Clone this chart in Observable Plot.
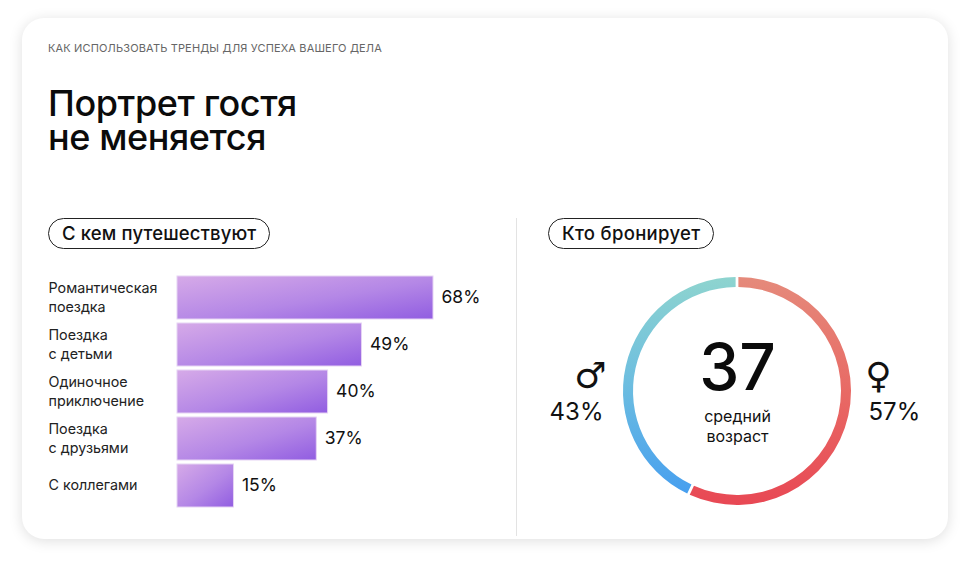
<!DOCTYPE html>
<html lang="ru">
<head>
<meta charset="utf-8">
<script src="https://cdn.jsdelivr.net/npm/d3@7"></script>
<script src="https://cdn.jsdelivr.net/npm/@observablehq/plot@0.6"></script>
<style>
  html, body { margin: 0; padding: 0; background: #ffffff; }
  body { width: 971px; height: 564px; position: relative; overflow: hidden; font-family: "Inter", "Roboto", sans-serif; color: #111; }
  #card { position: absolute; left: 22px; top: 18px; width: 926px; height: 521px; background: #fff; border-radius: 22px; box-shadow: 0 2px 14px rgba(0,0,0,0.13); }
  .abs { position: absolute; }
  #kicker { left: 48px; top: 41px; font-size: 11px; letter-spacing: 0.15px; color: #666; }
  .title { left: 48px; font-size: 36px; font-weight: 500; line-height: 34px; height: 34px; letter-spacing: -0.4px; color: #0b0b0b; white-space: nowrap; }
  #title1 { top: 86px; }
  #title2 { top: 120px; }
  .pill { top: 218px; height: 29px; border: 1.3px solid #222; border-radius: 16px; font-size: 18.5px; font-weight: 500; line-height: 29px; letter-spacing: 0.15px; padding: 0 13px; box-sizing: content-box; color: #111; }
  #pill1 { left: 48px; }
  #pill2 { left: 548px; letter-spacing: 0.3px; }
  #divider { left: 516px; top: 218px; width: 1px; height: 318px; background: #e3e3e3; }
  #bars { left: 30px; top: 265px; }
  #donut { left: 530px; top: 260px; }
</style>
</head>
<body>
<div id="card"></div>
<div id="kicker" class="abs">КАК ИСПОЛЬЗОВАТЬ ТРЕНДЫ ДЛЯ УСПЕХА ВАШЕГО ДЕЛА</div>
<div id="title1" class="abs title">Портрет гостя</div>
<div id="title2" class="abs title">не меняется</div>
<div id="pill1" class="abs pill">С кем путешествуют</div>
<div id="pill2" class="abs pill">Кто бронирует</div>
<div id="divider" class="abs"></div>
<div id="bars" class="abs"></div>
<div id="donut" class="abs"></div>
<script>
// ---- data ----
const categories = ["Романтическая\nпоездка", "Поездка\nс детьми", "Одиночное\nприключение", "Поездка\nс друзьями", "С коллегами"];
const shares = [68, 49, 40, 37, 15];

const genderKeys = ["female", "male"];
const genderSymbols = ["♀", "♂"];
const genderShares = [57, 43];
const averageAge = 37;
const averageAgeLabel = "средний\nвозраст";

// ---- helpers ----
function gradientDefs(specs) {
  return () => {
    const defs = d3.create("svg:defs");
    for (const s of specs) {
      const g = defs.append("linearGradient").attr("id", s.id)
        .attr("x1", s.x1).attr("y1", s.y1).attr("x2", s.x2).attr("y2", s.y2);
      for (const [o, c] of s.stops) g.append("stop").attr("offset", o).attr("stop-color", c);
    }
    return defs.node();
  };
}

// ---- bar chart ----
const travel = categories.map((c, i) => ({category: c, share: shares[i]}));

const bars = Plot.plot({
  width: 470,
  height: 250,
  margin: 0,
  style: {fontFamily: "Inter, Roboto, sans-serif", color: "#1a1a1a", background: "transparent"},
  x: {domain: [0, 68], range: [147, 403], axis: null},
  y: {domain: categories, range: [7, 246], padding: 0.085},
  marks: [
    gradientDefs([{id: "barGrad", x1: 0, y1: 0, x2: 1, y2: 1,
      stops: [[0, "#d6aae8"], [0.55, "#b487e6"], [1, "#915de1"]]}]),
    Plot.barX(travel, {x: "share", y: "category", fill: "url(#barGrad)", stroke: "#e6d3f4", strokeWidth: 1}),
    Plot.text(travel, {x: "share", y: "category", text: d => d.share + "%", dx: 8, dy: -1, textAnchor: "start", fontSize: 17.5, fill: "#111"}),
    Plot.axisY({label: null, tickSize: 0, tickPadding: 0, textAnchor: "start", dx: 18, dy: -2, fontSize: 14.3, lineHeight: 1.33, fill: "#222", style: {letterSpacing: "0.6px"}})
  ]
});
document.getElementById("bars").append(bars);

// ---- donut ----
const gender = genderKeys.map((k, i) => ({key: k, symbol: genderSymbols[i], share: genderShares[i]}));
const isMale = d => d.key === "male";
const isFemale = d => d.key === "female";

const donut = Plot.plot({
  width: 414,
  height: 262,
  margin: 0,
  style: {fontFamily: "Inter, Roboto, sans-serif", color: "#111", background: "transparent"},
  x: {domain: [0, 100], range: [0, 2 * Math.PI], axis: null},
  marks: [
    gradientDefs([
      {id: "ring-female", x1: 0, y1: 0, x2: 0, y2: 1, stops: [[0, "#e58a7b"], [0.5, "#e86a65"], [1, "#e84854"]]},
      {id: "ring-male", x1: 0, y1: 0, x2: 0, y2: 1, stops: [[0, "#8ed4cf"], [0.5, "#6cbde0"], [1, "#479fef"]]}
    ]),
    Plot.barX(gender, Plot.stackX({
      x: "share",
      render(index, scales, values, dimensions) {
        const cx = dimensions.width / 2, cy = dimensions.height / 2;
        const arc = d3.arc().innerRadius(104).outerRadius(114).padAngle(0.018);
        const g = d3.create("svg:g").attr("transform", `translate(${cx},${cy})`);
        for (const i of index) {
          g.append("path")
            .attr("d", arc({startAngle: values.x1[i], endAngle: values.x2[i]}))
            .attr("fill", `url(#ring-${gender[i].key})`);
        }
        return g.node();
      }
    })),
    Plot.text([averageAge], {text: d => String(d), frameAnchor: "middle", dy: -22, fontSize: 64, fontWeight: 500, fill: "#0b0b0b"}),
    Plot.text([averageAgeLabel], {text: d => d, frameAnchor: "middle", dy: 34, fontSize: 16, lineHeight: 1.25, fill: "#111", style: {letterSpacing: "0.5px"}}),
    Plot.text(gender, {filter: isMale, text: "symbol", frameAnchor: "middle", dx: -147, dy: -15, fontSize: 36, fontWeight: "bold", fontFamily: "DejaVu Sans", fill: "#111"}),
    Plot.text(gender, {filter: isFemale, text: "symbol", frameAnchor: "middle", dx: 141, dy: -15, fontSize: 36, fontWeight: "bold", fontFamily: "DejaVu Sans", fill: "#111"}),
    Plot.text(gender, {filter: isMale, text: d => d.share + "%", frameAnchor: "middle", textAnchor: "end", dx: -134, dy: 21, fontSize: 24, fill: "#111", style: {letterSpacing: "0.4px"}}),
    Plot.text(gender, {filter: isFemale, text: d => d.share + "%", frameAnchor: "middle", textAnchor: "start", dx: 131, dy: 21, fontSize: 24, fill: "#111", style: {letterSpacing: "0.4px"}})
  ]
});
document.getElementById("donut").append(donut);
</script>
</body>
</html>
